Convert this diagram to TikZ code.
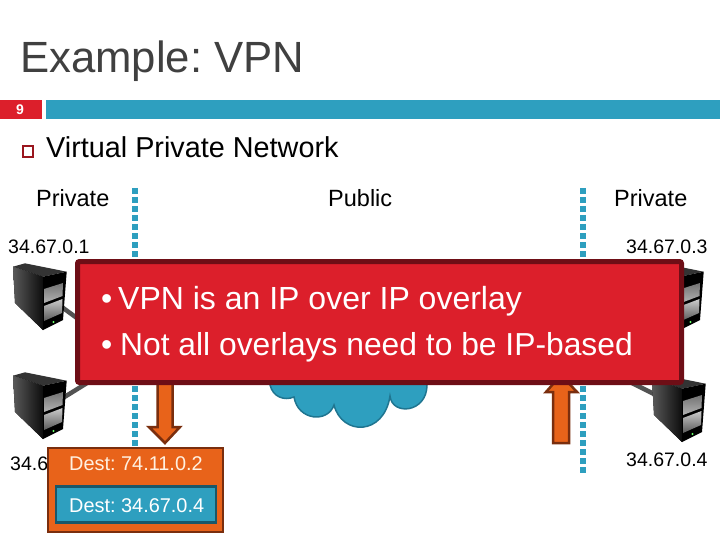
\documentclass[tikz,border=0pt]{standalone}
\usepackage{fontspec}
\setmainfont{Liberation Sans}
\definecolor{teal}{HTML}{2E9FBF}
\definecolor{tealdark}{HTML}{1F7590}
\definecolor{redfill}{HTML}{DC1F2B}
\definecolor{reddark}{HTML}{6E0E16}
\definecolor{orangefill}{HTML}{E8631A}
\definecolor{orangedark}{HTML}{7A2E0E}
\definecolor{titlegray}{HTML}{404040}
\tikzset{
  lbl/.style={anchor=base west,inner sep=0pt,font=\fontsize{#1}{#1}\selectfont\frenchspacing},
  divider/.style={line width=6pt,teal,dash pattern=on 6pt off 3pt},
  wire/.style={line width=4.5pt,color=black!68},
  bigarrow/.style={fill=orangefill,draw=orangedark,line width=2.5pt,line join=miter},
  servericon/.pic={
    \fill[black!80] (0,3.7) -- (12,0.3) -- (53.7,8.7) -- (30,13.7) -- cycle;
    \fill[left color=black!65,right color=black!95] (0,3.7) -- (30,13.7) -- (30,67) -- (2,40) -- cycle;
    \fill[black] (30,13.7) -- (53.7,8.7) -- (50,57) -- (30,67) -- cycle;
    \fill[top color=black!55,bottom color=black!30] (31,26) -- (50,20) -- (49.5,33) -- (31,40) -- cycle;
    \fill[top color=black!20,bottom color=black!65] (31,43) -- (49.5,36) -- (49,50) -- (31,58) -- cycle;
    \fill[green!60!white] (40.5,59) circle (1.2);
  }
}
\begin{document}
\begin{tikzpicture}[x=1pt,y=-1pt]
\useasboundingbox (0,0) rectangle (720,540);
% header
\node[lbl=43.7,text=titlegray] (title) at (20,73) {Example: VPN};
\fill[redfill] (0,100) rectangle (42,119);
\node[font=\bfseries\fontsize{14}{14}\selectfont,text=white,inner sep=0pt] (num) at (20,110) {9};
\fill[teal] (46,100) rectangle (720,119);
\draw[color=redfill!70!black,line width=2pt] (23,146) rectangle (33,157);
\node[lbl=28.8] (head) at (46,158) {Virtual Private Network};
% zone labels
\node[lbl=23.5] (pl) at (36,207) {Private};
\node[lbl=23.5] (pu) at (328,207) {Public};
\node[lbl=23.5] (pr) at (614,207) {Private};
\node[lbl=19.5] (ip1) at (8,253) {34.67.0.1};
\node[lbl=19.5] (ip3) at (626,253) {34.67.0.3};
\node[lbl=19.5] (ip2) at (10,470) {34.6};
\node[lbl=19.5] (ip4) at (626,466) {34.67.0.4};
% dividers
\coordinate (d1a) at (135,188); \coordinate (d1b) at (135,450);
\coordinate (d2a) at (583,188); \coordinate (d2b) at (583,473);
\draw[divider] (d1a) -- (d1b);
\draw[divider] (d2a) -- (d2b);
% wires
\coordinate (w1a) at (55,302); \coordinate (w1b) at (100,335);
\coordinate (w2a) at (58,401); \coordinate (w2b) at (100,375);
\coordinate (w3a) at (660,397); \coordinate (w3b) at (620,377);
\draw[wire] (w1a) -- (w1b);
\draw[wire] (w2a) -- (w2b);
\draw[wire] (w3a) -- (w3b);
% servers
\pic at (13,263) {servericon};
\pic at (13,372) {servericon};
\pic at (652,375) {servericon};
\pic at (650,263) {servericon};
% cloud
\draw[fill=teal,draw=tealdark,line width=1.5pt] (270,370) -- (270,385)
  .. controls (273,397) and (284,401) .. (294,397)
  .. controls (298,421) and (328,423) .. (334,405)
  .. controls (342,436) and (384,436) .. (390,396)
  .. controls (392,416) and (427,413) .. (427,385) -- (427,370) -- cycle;
% arrows
\draw[bigarrow] (157.5,370) -- (172.5,370) -- (172.5,427) -- (180,427) -- (165,443) -- (149,427) -- (157.5,427) -- cycle;
\draw[bigarrow] (553,443) -- (569,443) -- (569,392) -- (577,392) -- (561,375) -- (546,392) -- (553,392) -- cycle;
% packet
\node[draw=orangedark,fill=orangefill,line width=2.5pt,minimum width=175pt,minimum height=84pt,inner sep=0pt] (pkt) at (135.5,490) {};
\node[draw=black!45!teal,fill=teal,line width=2.5pt,minimum width=160pt,minimum height=36pt,inner sep=0pt] (inner) at (136,504.5) {};
\node[lbl=19.9,text=white!88!orange] (d1) at (69,470) {Dest: 74.11.0.2};
\node[lbl=19.9,text=white] (d2) at (69,512) {Dest: 34.67.0.4};
% callout
\draw[fill=redfill,draw=reddark,line width=5pt,rounded corners=2pt] (77.5,261.5) rectangle (681.5,382.5);
\node[lbl=32,text=white] (b1) at (101,309) {•};
\node[lbl=32,text=white] (t1) at (118,309) {VPN is an IP over IP overlay};
\node[lbl=32,text=white] (b2) at (101,355) {•};
\node[lbl=31.8,text=white] (t2) at (120,355) {Not all overlays need to be IP-based};
\end{tikzpicture}
\end{document}
